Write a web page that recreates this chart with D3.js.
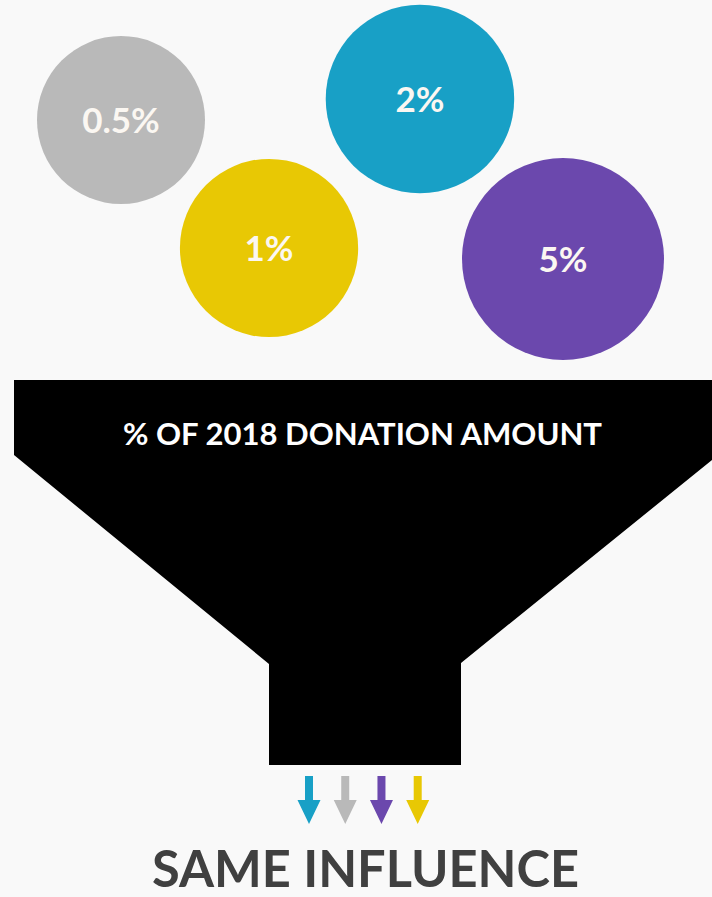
<!DOCTYPE html>
<html>
<head>
<meta charset="utf-8">
<script src="https://cdn.jsdelivr.net/npm/d3@7"></script>
<style>
  html, body { margin: 0; padding: 0; background: #f9f9f9; }
  svg { display: block; }
</style>
</head>
<body>
<div id="chart"></div>
<script>
// Donation shares shown as bubbles, in left-to-right order
const shareValues = [0.5, 1, 2, 5];
const shareLabels = ["0.5%", "1%", "2%", "5%"];
const shareColors = ["#b9b9b9", "#e8c804", "#18a0c6", "#6b48ad"];

// Arrows leaving the funnel (same shares, reordered)
const arrowValues = [2, 0.5, 5, 1];

const funnelTitle = "% OF 2018 DONATION AMOUNT";
const footerTitle = "SAME INFLUENCE";

const W = 712, H = 897;
const svg = d3.select("#chart").append("svg")
  .attr("width", W).attr("height", H);

svg.append("rect").attr("width", W).attr("height", H).attr("fill", "#f9f9f9");

const colorOf = d3.scaleOrdinal().domain(shareValues).range(shareColors);
const labelOf = d3.scaleOrdinal().domain(shareValues).range(shareLabels);

// Bubble size grows with the log of the share
const rScale = d3.scaleLog().domain([0.5, 5]).range([84, 101]);
const xScale = d3.scalePoint().domain(shareValues).range([121, 563]);
// staggered rows: bubbles alternate between upper and lower positions
const rowY = d3.scaleOrdinal().domain(shareValues).range([120, 248, 99, 259]);
const xNudge = d3.scaleOrdinal().domain(shareValues).range([0, 0.7, 4.3, 0]);

const bubbles = svg.append("g").selectAll("g")
  .data(shareValues)
  .join("g")
  .attr("transform", d => `translate(${xScale(d) + xNudge(d)},${rowY(d)})`);

bubbles.append("circle")
  .attr("r", d => rScale(d))
  .attr("fill", d => colorOf(d));

bubbles.append("text")
  .attr("text-anchor", "middle")
  .attr("y", 13)
  .attr("fill", "#fbf7f2")
  .style("font-family", "Lato, 'Open Sans', sans-serif")
  .style("font-weight", 700)
  .style("font-size", "35px")
  .text(d => labelOf(d));

// Funnel outline
const funnel = d3.path();
funnel.moveTo(14, 380);
funnel.lineTo(712, 380);
funnel.lineTo(712, 460);
funnel.lineTo(461, 663);
funnel.lineTo(461, 765);
funnel.lineTo(269, 765);
funnel.lineTo(269, 664);
funnel.lineTo(14, 455);
funnel.closePath();

svg.append("path").attr("d", funnel.toString()).attr("fill", "#000");

svg.append("text")
  .attr("x", 362.5).attr("y", 445)
  .attr("text-anchor", "middle")
  .attr("fill", "#ffffff")
  .attr("textLength", 479)
  .attr("lengthAdjust", "spacingAndGlyphs")
  .style("font-family", "Lato, 'Open Sans', sans-serif")
  .style("font-weight", 700)
  .style("font-size", "31px")
  .text(funnelTitle);

// Arrows
const arrowX = d3.scalePoint().domain(d3.range(arrowValues.length)).range([309, 417.7]);
const arrowPath = (() => {
  const p = d3.path();
  p.moveTo(-4, 776); p.lineTo(4, 776); p.lineTo(4, 800); p.lineTo(11.5, 800);
  p.lineTo(0, 824); p.lineTo(-11.5, 800); p.lineTo(-4, 800); p.closePath();
  return p.toString();
})();

svg.append("g").selectAll("path")
  .data(arrowValues)
  .join("path")
  .attr("transform", (d, i) => `translate(${arrowX(i)},0)`)
  .attr("d", arrowPath)
  .attr("fill", d => colorOf(d));

svg.append("text")
  .attr("x", 365.5).attr("y", 887)
  .attr("text-anchor", "middle")
  .attr("fill", "#404040")
  .attr("textLength", 427)
  .attr("lengthAdjust", "spacingAndGlyphs")
  .style("font-family", "Lato, 'Open Sans', sans-serif")
  .style("font-weight", 700)
  .style("font-size", "51px")
  .text(footerTitle);
</script>
</body>
</html>
